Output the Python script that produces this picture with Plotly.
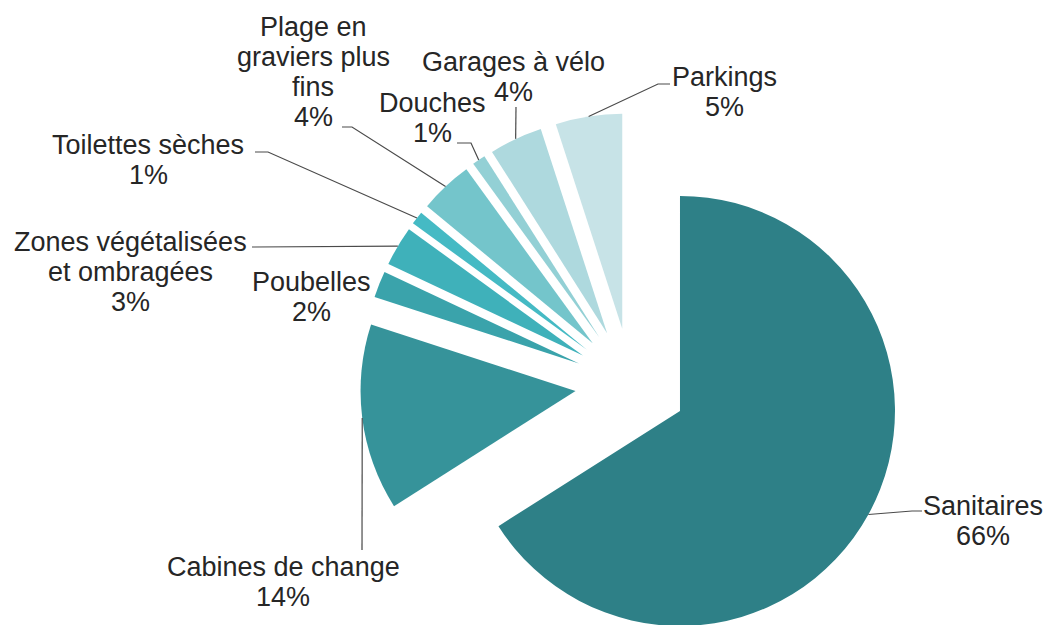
import math
import plotly.graph_objects as go

# ---------------- data ----------------
categories = ["Sanitaires", "Cabines de change", "Poubelles",
              "Zones végétalisées et ombragées", "Toilettes sèches",
              "Plage en graviers plus fins", "Douches", "Garages à vélo", "Parkings"]
values = [66, 14, 2, 3, 1, 4, 1, 4, 5]

# ---------------- style / layout ----------------
colors = ["#2E8087", "#36939A", "#3AA3AB", "#3FB1BA", "#45BAC4",
          "#74C5CB", "#93D0D5", "#AED9DE", "#C7E3E7"]
label_lines = [["Sanitaires"], ["Cabines de change"], ["Poubelles"],
               ["Zones végétalisées", "et ombragées"], ["Toilettes sèches"],
               ["Plage en", "graviers plus", "fins"], ["Douches"],
               ["Garages à vélo"], ["Parkings"]]
W, H = 1052, 625
OFF = 8                    # page body margin offset (px)
CX, CY = 631, 384          # pie centre (px, screen)
R = 215                    # radius (px)
EXPLODE = 0.26             # explosion as fraction of radius
LINE_H = 30
label_pos = [(983, 521), (283, 582), (312, 297), (130, 272), (148, 160),
             (313, 72), (432, 118), (513, 77), (724, 92)]
leader_start = [[(922, 511), (912, 511)], [(362, 550)], None, [(252, 247)],
                [(255, 152), (268, 152)], [(342, 127), (352, 127)],
                [(457, 143), (471, 143)], [(516, 107)], [(670, 84), (658, 84)]]
FONT = "Liberation Sans, Arial, sans-serif"
TXT = "#262626"


def px(x):
    return (x - OFF) / W


def py(y):
    return 1 - (y - OFF) / H


total = sum(values)
d = EXPLODE * R
fig = go.Figure()
cum = 0
mids = []
for i, v in enumerate(values):
    mid = (cum + v / 2) / total * 2 * math.pi
    mids.append(mid)
    cum += v
    cx = CX + d * math.sin(mid)
    cy = CY - d * math.cos(mid)
    cols = [colors[j] if j == i else "rgba(0,0,0,0)" for j in range(len(values))]
    fig.add_trace(go.Pie(
        values=values, labels=categories, sort=False, direction="clockwise",
        rotation=0, textinfo="none", hoverinfo="label+percent",
        marker=dict(colors=cols, line=dict(width=0)),
        domain=dict(x=[max(0, px(cx - R)), min(1, px(cx + R))],
                    y=[max(0, py(cy + R)), min(1, py(cy - R))]),
        showlegend=False,
    ))

annotations = []
shapes = []
for i, v in enumerate(values):
    lx, ly = label_pos[i]
    lines = label_lines[i] + [f"{v}%"]
    n = len(lines)
    for k, t in enumerate(lines):
        yy = ly + (k - (n - 1) / 2) * LINE_H
        annotations.append(dict(
            x=px(lx), y=py(yy), xref="paper", yref="paper",
            text=t, showarrow=False,
            xanchor="center", yanchor="middle", align="center",
            font=dict(family=FONT, size=27, color=TXT),
        ))
    if leader_start[i]:
        mid = mids[i]
        ex = CX + (d + R) * math.sin(mid)
        ey = CY - (d + R) * math.cos(mid)
        pts = leader_start[i] + [(ex, ey)]
        path = "M " + " L ".join(f"{px(x):.5f},{py(y):.5f}" for x, y in pts)
        shapes.append(dict(type="path", path=path, xref="paper", yref="paper",
                           line=dict(color="#4a4a4a", width=1.2)))

fig.update_layout(
    width=W, height=H, margin=dict(l=0, r=0, t=0, b=0),
    paper_bgcolor="white", plot_bgcolor="white",
    annotations=annotations, shapes=shapes,
)
fig.write_html("out.html")
